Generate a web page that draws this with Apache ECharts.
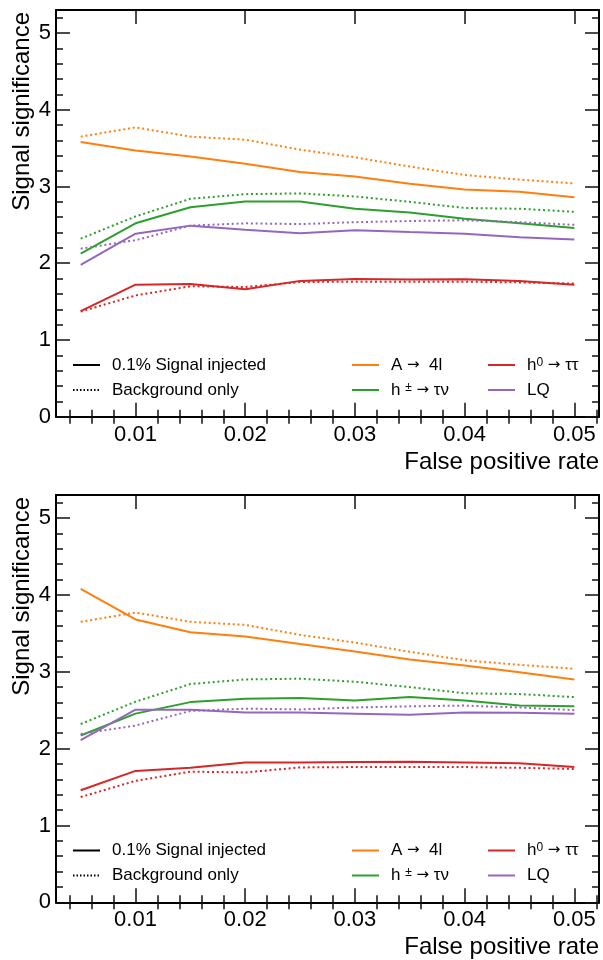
<!DOCTYPE html>
<html>
<head>
<meta charset="utf-8">
<script src="https://cdn.jsdelivr.net/npm/echarts@6/dist/echarts.min.js"></script>
<style>
html,body{margin:0;padding:0;background:#fff;}
#chart{width:603px;height:960px;}
</style>
</head>
<body>
<div id="chart"></div>
<script>
// ---- data ----
var fpr = [0.005, 0.01, 0.015, 0.02, 0.025, 0.03, 0.035, 0.04, 0.045, 0.05];
var processNames = ['A \u2192 4l', 'h\u00b1 \u2192 \u03c4\u03bd', 'h\u2070 \u2192 \u03c4\u03c4', 'LQ'];
var styleNames = ['0.1% Signal injected', 'Background only'];

// background only (same in both panels)
var bgA4l = [3.65, 3.77, 3.65, 3.61, 3.48, 3.38, 3.26, 3.15, 3.09, 3.04];
var bgHpm = [2.32, 2.61, 2.84, 2.90, 2.91, 2.87, 2.80, 2.72, 2.71, 2.67];
var bgH0  = [1.37, 1.58, 1.70, 1.69, 1.755, 1.76, 1.76, 1.76, 1.75, 1.735];
var bgLQ  = [2.19, 2.30, 2.49, 2.52, 2.51, 2.535, 2.55, 2.56, 2.535, 2.50];

// signal injected, top panel
var sigA4lTop = [3.58, 3.47, 3.39, 3.295, 3.19, 3.13, 3.035, 2.96, 2.93, 2.86];
var sigHpmTop = [2.125, 2.52, 2.73, 2.805, 2.805, 2.71, 2.66, 2.58, 2.52, 2.46];
var sigH0Top  = [1.375, 1.72, 1.73, 1.66, 1.77, 1.795, 1.787, 1.79, 1.77, 1.72];
var sigLQTop  = [1.98, 2.385, 2.49, 2.437, 2.39, 2.43, 2.406, 2.385, 2.34, 2.31];

// signal injected, bottom panel
var sigA4lBot = [4.08, 3.68, 3.515, 3.458, 3.36, 3.264, 3.16, 3.08, 2.995, 2.90];
var sigHpmBot = [2.17, 2.455, 2.605, 2.65, 2.66, 2.627, 2.67, 2.627, 2.56, 2.55];
var sigH0Bot  = [1.458, 1.71, 1.75, 1.82, 1.82, 1.826, 1.83, 1.82, 1.81, 1.76];
var sigLQBot  = [2.11, 2.506, 2.506, 2.47, 2.47, 2.455, 2.44, 2.47, 2.465, 2.455];

// ticks
var xMajorTicks = [0.01, 0.02, 0.03, 0.04, 0.05];
var xMinorTicks = [0.004, 0.006, 0.008, 0.012, 0.014, 0.016, 0.018, 0.022, 0.024, 0.026, 0.028, 0.032, 0.034, 0.036, 0.038, 0.042, 0.044, 0.046, 0.048, 0.052];
var yMajorTicks = [0, 1, 2, 3, 4, 5];
var yMinorTicks = [0.2, 0.4, 0.6, 0.8, 1.2, 1.4, 1.6, 1.8, 2.2, 2.4, 2.6, 2.8, 3.2, 3.4, 3.6, 3.8, 4.2, 4.4, 4.6, 4.8, 5.2];
var xLimits = [0.00275, 0.05225];
var yLimits = [0, 5.3];

// ---- chart ----
var FONT = "'Liberation Sans', Arial, Helvetica, sans-serif";
var colors = ['#ff7f0e', '#2ca02c', '#d62728', '#9467bd'];
var DOT = [2, 2.8];

var grids = [
  {left: 56, top: 10, width: 543, height: 406.7},
  {left: 56, top: 495, width: 543, height: 407.3}
];

function pairs(xs, ys) { return xs.map(function (x, i) { return [x, ys[i]]; }); }

var xAxes = [], yAxes = [];
grids.forEach(function (g, gi) {
  [['bottom', true], ['top', false]].forEach(function (p) {
    xAxes.push({
      type: 'value', gridIndex: gi, position: p[0], min: xLimits[0], max: xLimits[1],
      axisLine: {show: true, onZero: false, lineStyle: {color: '#000', width: 2}},
      axisTick: {show: true, inside: true, length: 14, customValues: xMajorTicks, lineStyle: {color: '#111', width: 1.5}},
      axisLabel: {show: p[1], customValues: xMajorTicks, margin: 7, color: '#000', fontSize: 22, fontFamily: FONT,
        formatter: function (v) { return v.toFixed(2); }},
      splitLine: {show: false}
    });
    xAxes.push({
      type: 'value', gridIndex: gi, position: p[0], min: xLimits[0], max: xLimits[1],
      axisLine: {show: false},
      axisTick: {show: true, inside: true, length: 7, customValues: xMinorTicks, lineStyle: {color: '#111', width: 1.5}},
      axisLabel: {show: false},
      splitLine: {show: false}
    });
  });
  [['left', true], ['right', false]].forEach(function (p) {
    yAxes.push({
      type: 'value', gridIndex: gi, position: p[0], min: yLimits[0], max: yLimits[1],
      axisLine: {show: true, onZero: false, lineStyle: {color: '#000', width: 2}},
      axisTick: {show: true, inside: true, length: 14, customValues: yMajorTicks, lineStyle: {color: '#111', width: 1.5}},
      axisLabel: {show: p[1], customValues: yMajorTicks, margin: 5, color: '#000', fontSize: 22, fontFamily: FONT},
      splitLine: {show: false}
    });
    yAxes.push({
      type: 'value', gridIndex: gi, position: p[0], min: yLimits[0], max: yLimits[1],
      axisLine: {show: false},
      axisTick: {show: true, inside: true, length: 7, customValues: yMinorTicks, lineStyle: {color: '#111', width: 1.5}},
      axisLabel: {show: false},
      splitLine: {show: false}
    });
  });
});

var series = [];
// dummy series for style legend
series.push({name: styleNames[0], type: 'line', xAxisIndex: 0, yAxisIndex: 0, data: [], symbol: 'none',
  itemStyle: {color: '#000'}, lineStyle: {color: '#000', width: 1.5, type: 'solid'}});
series.push({name: styleNames[1], type: 'line', xAxisIndex: 0, yAxisIndex: 0, data: [], symbol: 'none',
  itemStyle: {color: '#000'}, lineStyle: {color: '#000', width: 1.5, type: [1.5, 2]}});

var panelSig = [[sigA4lTop, sigHpmTop, sigH0Top, sigLQTop], [sigA4lBot, sigHpmBot, sigH0Bot, sigLQBot]];
var bgAll = [bgA4l, bgHpm, bgH0, bgLQ];
[0, 1].forEach(function (gi) {
  for (var k = 0; k < 4; k++) {
    series.push({name: processNames[k], type: 'line', xAxisIndex: gi * 4, yAxisIndex: gi * 4,
      data: pairs(fpr, panelSig[gi][k]), symbol: 'none', animation: false,
      itemStyle: {color: colors[k]}, lineStyle: {color: colors[k], width: 2, type: 'solid'}});
  }
  for (var k2 = 0; k2 < 4; k2++) {
    series.push({name: processNames[k2] + ' (background only)', type: 'line', xAxisIndex: gi * 4, yAxisIndex: gi * 4,
      data: pairs(fpr, bgAll[k2]), symbol: 'none', animation: false,
      itemStyle: {color: colors[k2]}, lineStyle: {color: colors[k2], width: 2, type: DOT}});
  }
});

var richLabels = {};
richLabels[processNames[0]] = 'A {arr|\u2192}  4l';
richLabels[processNames[1]] = 'h {sup|\u00b1} {arr|\u2192} \u03c4\u03bd';
richLabels[processNames[2]] = 'h{sup|0} {arr|\u2192} \u03c4\u03c4';

var legends = [];
[356.5, 842].forEach(function (top) {
  [[72, styleNames], [351, [processNames[0], processNames[1]]], [487, [processNames[2], processNames[3]]]].forEach(function (c) {
    legends.push({
      data: c[1], orient: 'vertical', left: c[0], top: top, padding: 0,
      itemWidth: 27, itemHeight: 14, itemGap: 8, selectedMode: false,
      itemStyle: {opacity: 0},
      formatter: function (name) { return richLabels[name] || name; },
      textStyle: {fontSize: 17, fontFamily: FONT, color: '#000', padding: [0, 0, 0, 7],
        rich: {
          arr: {fontSize: 15, fontFamily: "'DejaVu Sans', sans-serif", color: '#000'},
          sup: {fontSize: 12, fontFamily: FONT, color: '#000', verticalAlign: 'top', lineHeight: 17}
        }}
    });
  });
});

var graphics = [];
[[12, 462], [497, 947]].forEach(function (p) {
  graphics.push({type: 'text', x: 22, y: p[0], rotation: Math.PI / 2,
    style: {text: 'Signal significance', font: '24px ' + FONT, fill: '#000', textAlign: 'right', textVerticalAlign: 'middle'}});
  graphics.push({type: 'text', x: 599, y: p[1],
    style: {text: 'False positive rate', font: '24px ' + FONT, fill: '#000', textAlign: 'right', textVerticalAlign: 'middle'}});
});

var chart = echarts.init(document.getElementById('chart'), null, {renderer: 'canvas'});
chart.setOption({
  animation: false,
  backgroundColor: '#fff',
  grid: grids,
  xAxis: xAxes,
  yAxis: yAxes,
  legend: legends,
  series: series,
  graphic: graphics
});
</script>
</body>
</html>
